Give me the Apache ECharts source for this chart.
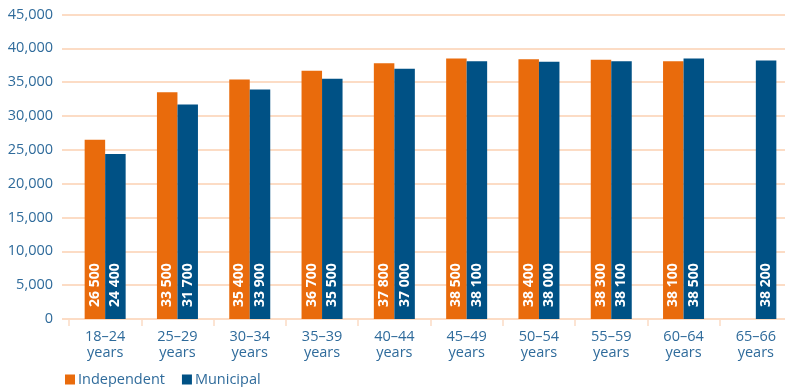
<!DOCTYPE html>
<html>
<head>
<meta charset="utf-8">
<script src="https://cdn.jsdelivr.net/npm/echarts@6/dist/echarts.min.js"></script>
<style>
  html, body { margin: 0; padding: 0; background: #ffffff; overflow: hidden; }
  /* plot area runs slightly past the right edge of the window */
  #chart { width: 792px; height: 387px; }
</style>
</head>
<body>
<div id="chart"></div>
<script>
// Age groups along the x axis
const ageGroups = ['18–24\nyears', '25–29\nyears', '30–34\nyears', '35–39\nyears', '40–44\nyears',
                   '45–49\nyears', '50–54\nyears', '55–59\nyears', '60–64\nyears', '65–66\nyears'];
// Salaries by employer type
const independent = [26500, 33500, 35400, 36700, 37800, 38500, 38400, 38300, 38100, null];
const municipal   = [24400, 31700, 33900, 35500, 37000, 38100, 38000, 38100, 38500, 38200];
// Value axis ticks
const yMin = 0, yMax = 45000, yStep = 5000;

const textBlue = '#2f6b9b';
const gridPeach = '#fcdcc5';
const fontFamily = '"Open Sans", "Noto Sans", sans-serif';

function spaced(v) {
  return String(v).replace(/\B(?=(\d{3})+(?!\d))/g, ' ');
}

const barLabel = {
  show: true,
  position: 'insideBottom',
  distance: 12,
  rotate: 90,
  align: 'left',
  verticalAlign: 'middle',
  color: '#ffffff',
  fontWeight: 'bold',
  fontSize: 14,
  fontFamily: fontFamily,
  formatter: p => spaced(p.value)
};

const chart = echarts.init(document.getElementById('chart'), null, { renderer: 'canvas' });
chart.setOption({
  animation: false,
  textStyle: { fontFamily: fontFamily },
  legend: {
    left: 60, top: 367,
    icon: 'rect', itemWidth: 10, itemHeight: 10, itemGap: 17,
    textStyle: { color: textBlue, fontSize: 14.5, fontFamily: fontFamily, padding: [0, 0, 0, -2] },
    data: ['Independent', 'Municipal']
  },
  grid: [
    // value gridlines
    { left: 62, right: 0, top: 14.5, bottom: 68 },
    // bars and categories
    { left: 69, right: 0, top: 14.5, bottom: 68 }
  ],
  xAxis: [
    { gridIndex: 0, type: 'category', data: ageGroups, show: false },
    {
      gridIndex: 1, type: 'category', data: ageGroups,
      axisLine: { show: false },
      axisTick: { show: true, length: 7, lineStyle: { color: gridPeach, width: 1.5 } },
      axisLabel: { color: textBlue, fontSize: 14.5, lineHeight: 16, margin: 10, fontFamily: fontFamily }
    }
  ],
  yAxis: [
    {
      gridIndex: 0, type: 'value', min: yMin, max: yMax, interval: yStep,
      axisLine: { show: false }, axisTick: { show: false },
      splitLine: { lineStyle: { color: gridPeach, width: 2 } },
      axisLabel: {
        color: textBlue, fontSize: 14.5, margin: 9, fontFamily: fontFamily,
        formatter: v => v.toLocaleString('en-US')
      }
    },
    {
      gridIndex: 1, type: 'value', min: yMin, max: yMax, interval: yStep,
      show: false, splitLine: { show: false }
    }
  ],
  series: [
    {
      name: 'Independent', type: 'bar', xAxisIndex: 1, yAxisIndex: 1,
      data: independent, barWidth: 20.5, barGap: '0%',
      itemStyle: { color: '#e96b0c' }, label: barLabel
    },
    {
      name: 'Municipal', type: 'bar', xAxisIndex: 1, yAxisIndex: 1,
      data: municipal, barWidth: 20.5, barGap: '0%',
      itemStyle: { color: '#005185' }, label: barLabel
    }
  ]
});
</script>
</body>
</html>
